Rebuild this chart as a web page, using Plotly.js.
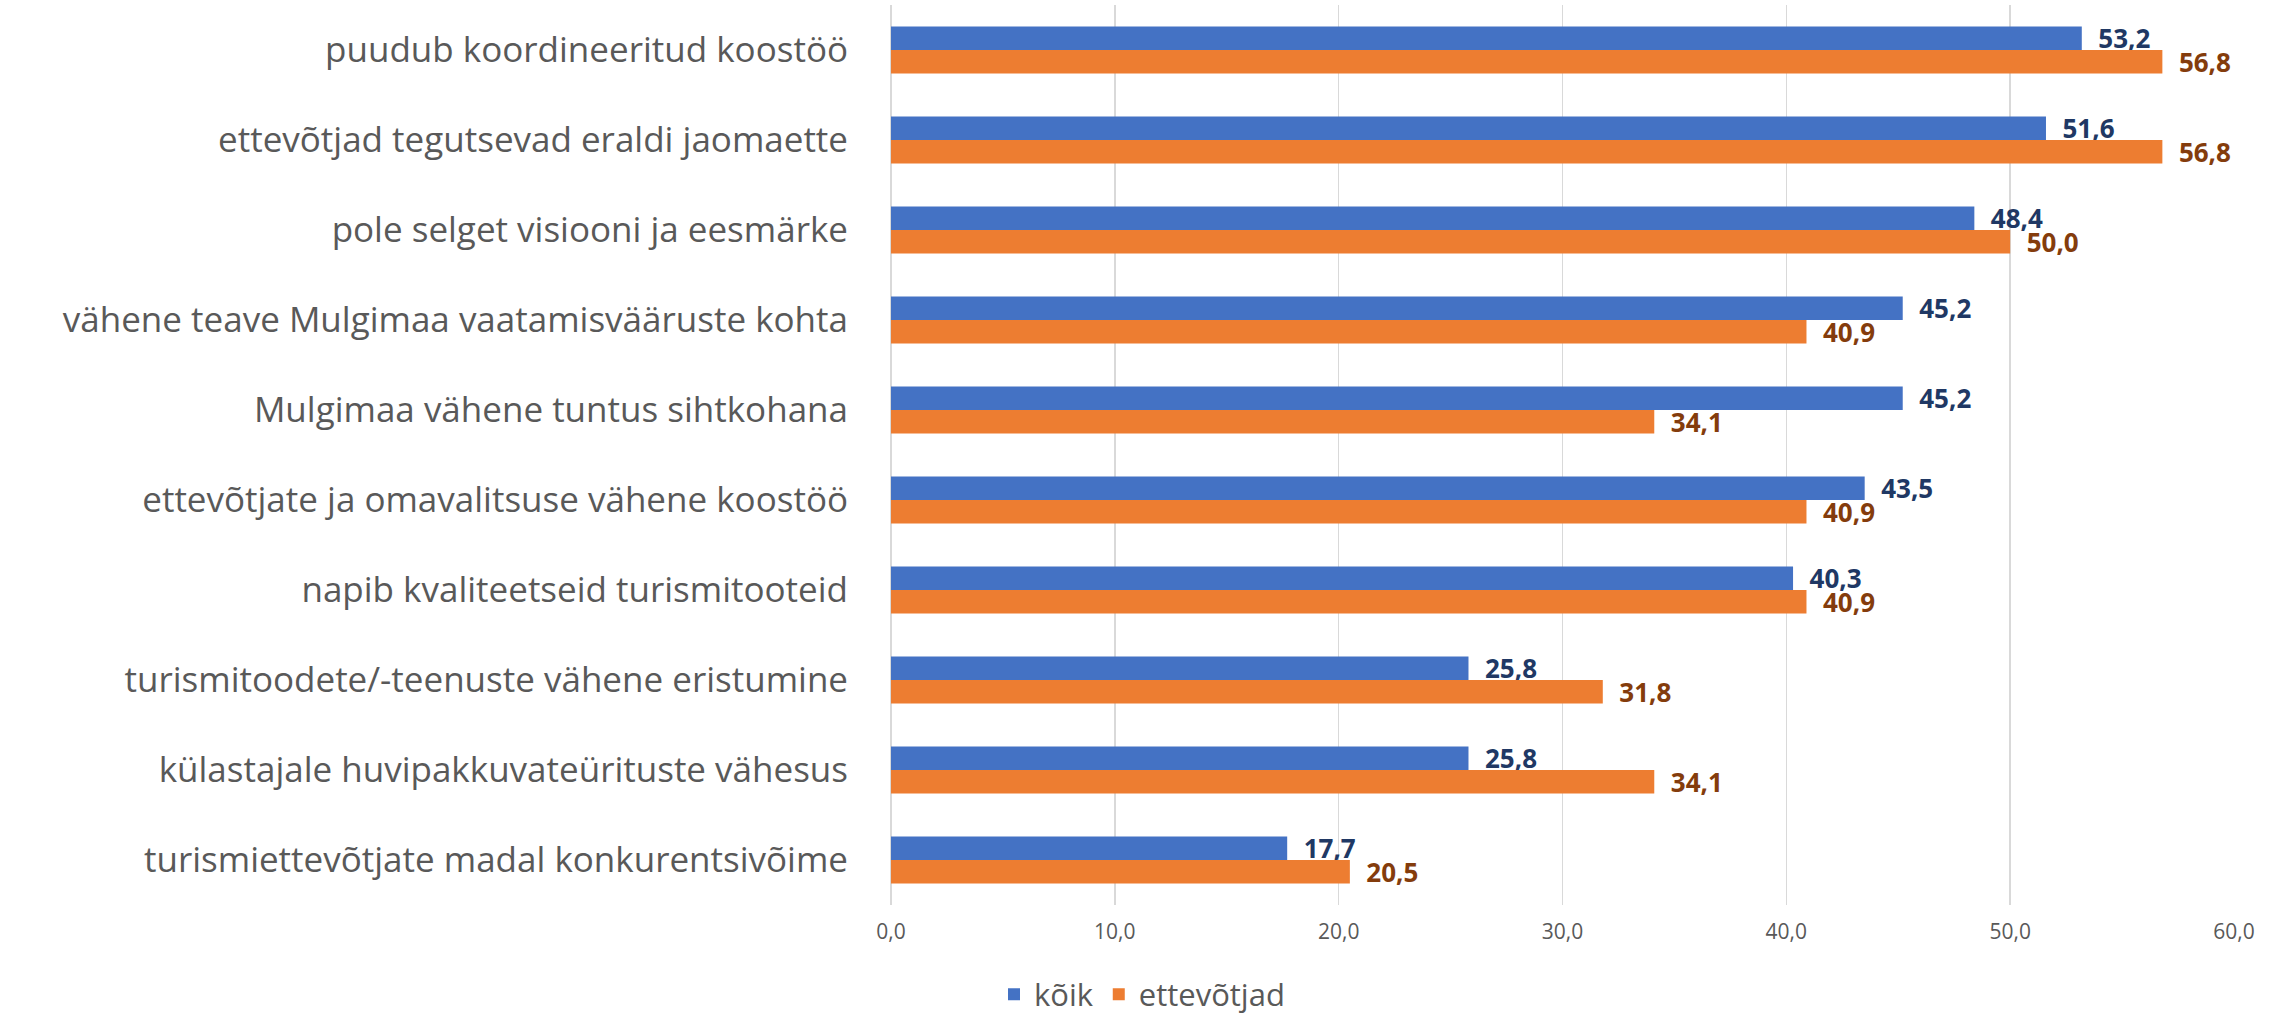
<!DOCTYPE html>
<html>
<head>
<meta charset="utf-8">
<script src="https://cdn.plot.ly/plotly-3.0.1.min.js"></script>
<style>html,body{margin:0;padding:0;background:#fff;}#chart{width:2284px;height:1015px;}</style>
</head>
<body>
<div id="chart"></div>
<script>
const categories = [
  "puudub koordineeritud koostöö",
  "ettevõtjad tegutsevad eraldi jaomaette",
  "pole selget visiooni ja eesmärke",
  "vähene teave Mulgimaa vaatamisvääruste kohta",
  "Mulgimaa vähene tuntus sihtkohana",
  "ettevõtjate ja omavalitsuse vähene koostöö",
  "napib kvaliteetseid turismitooteid",
  "turismitoodete/-teenuste vähene eristumine",
  "külastajale huvipakkuvateürituste vähesus",
  "turismiettevõtjate madal konkurentsivõime"
];
const koik = [53.2, 51.6, 48.4, 45.2, 45.2, 43.5, 40.3, 25.8, 25.8, 17.7];
const ettevotjad = [56.8, 56.8, 50.0, 40.9, 34.1, 40.9, 40.9, 31.8, 34.1, 20.5];
const seriesNames = ["kõik", "ettevõtjad"];
const tickVals = [0, 10, 20, 30, 40, 50, 60];

const fmt = v => "\u00a0\u00a0" + v.toFixed(1).replace(".", ",");
const FONT = "Open Sans, sans-serif";

const traces = [
  {
    type: "bar", orientation: "h", name: seriesNames[0],
    y: categories, x: koik,
    marker: {color: "#4472C4"},
    text: koik.map(fmt), textposition: "outside", constraintext: "none", cliponaxis: false,
    textfont: {family: FONT, size: 26, color: "#203864", weight: "bold"},
    hoverinfo: "x+y"
  },
  {
    type: "bar", orientation: "h", name: seriesNames[1],
    y: categories, x: ettevotjad,
    marker: {color: "#ED7D31"},
    text: ettevotjad.map(fmt), textposition: "outside", constraintext: "none", cliponaxis: false,
    textfont: {family: FONT, size: 26, color: "#843C0C", weight: "bold"},
    hoverinfo: "x+y"
  }
];

const layout = {
  width: 2284, height: 1015,
  margin: {l: 891, r: 50, t: 5, b: 110},
  paper_bgcolor: "#fff", plot_bgcolor: "#fff",
  separators: ", ",
  barmode: "group", bargap: 0.48, bargroupgap: 0,
  font: {family: FONT, color: "#595959"},
  xaxis: {
    range: [0, 60], tickvals: tickVals,
    ticktext: tickVals.map(v => v.toFixed(1).replace(".", ",")),
    showgrid: true, gridcolor: "#D9D9D9", gridwidth: 1.5,
    zeroline: true, zerolinecolor: "#D9D9D9", zerolinewidth: 1.5,
    showline: false, ticks: "outside", ticklen: 8, tickcolor: "rgba(0,0,0,0)",
    tickfont: {family: FONT, size: 21, color: "#595959"}
  },
  yaxis: {
    autorange: "reversed", type: "category",
    showgrid: false, zeroline: false, showline: false,
    ticks: "", ticklabelstandoff: 42,
    tickfont: {family: FONT, size: 35, color: "#595959"}
  },
  showlegend: true,
  legend: {
    orientation: "h", xref: "container", yref: "container",
    x: 0.5, xanchor: "center", y: 0.02, yanchor: "middle",
    font: {family: FONT, size: 31, color: "#595959"},
    itemwidth: 30, traceorder: "normal"
  }
};

Plotly.newPlot("chart", traces, layout, {displayModeBar: false, staticPlot: true});
</script>
</body>
</html>
